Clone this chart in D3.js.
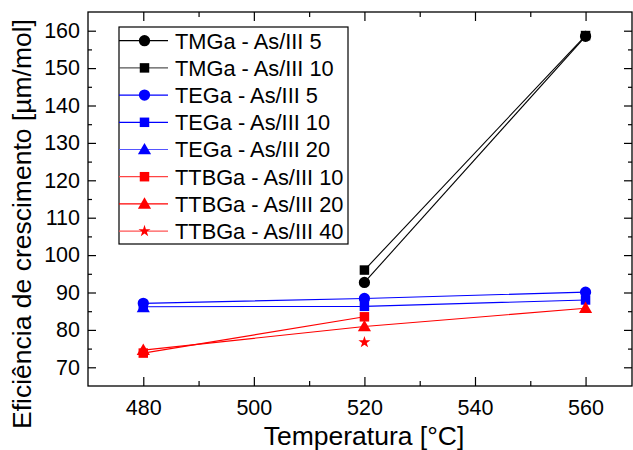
<!DOCTYPE html>
<html>
<head>
<meta charset="utf-8">
<script src="https://cdn.jsdelivr.net/npm/d3@7"></script>
<style>
  html, body { margin: 0; padding: 0; background: #fff; }
  svg { display: block; font-family: "Liberation Sans", Arial, sans-serif; }
</style>
</head>
<body>
<svg id="chart" width="633" height="450"></svg>
<script>
// ---- data ----
const temps = [480, 520, 560];
const seriesNames = [
  "TMGa - As/III 5", "TMGa - As/III 10",
  "TEGa - As/III 5", "TEGa - As/III 10", "TEGa - As/III 20",
  "TTBGa - As/III 10", "TTBGa - As/III 20", "TTBGa - As/III 40"
];
const tmga5   = [null, 92.7, 158.5];
const tmga10  = [null, 96.0, 158.7];
const tega5   = [87.1, 88.4, 90.1];
const tega10  = [86.2, 86.3, 88.0];
const tega20  = [86.0, null, null];
const ttbga10 = [73.8, 83.5, null];
const ttbga20 = [74.6, 80.9, 85.8];
const ttbga40 = [null, 76.7, null];
const xTicks = [480, 500, 520, 540, 560];
const yTicks = [70, 80, 90, 100, 110, 120, 130, 140, 150, 160];

const seriesValues = [tmga5, tmga10, tega5, tega10, tega20, ttbga10, ttbga20, ttbga40];
const seriesColors = ["#000000", "#000000", "#0000ff", "#0000ff", "#0000ff", "#ff0000", "#ff0000", "#ff0000"];
const legendLineColors = ["#000000", "#555555", "#0000ff", "#0000ff", "#5555ff", "#ff4444", "#ff0000", "#ff5555"];
const seriesSymbols = [d3.symbolCircle, d3.symbolSquare, d3.symbolCircle, d3.symbolSquare, d3.symbolTriangle,
                       d3.symbolSquare, d3.symbolTriangle, d3.symbolStar];
const symbolSizes = new Map([[d3.symbolCircle, 100], [d3.symbolSquare, 90], [d3.symbolTriangle, 75], [d3.symbolStar, 45]]);

// ---- layout ----
const L = 88, R = 632, T = 12, B = 386;
const svg = d3.select("#chart");
const x = d3.scaleLinear().domain([470, 568.4]).range([L, R]);
const y = d3.scaleLinear().domain([65, 165]).range([B, T]);

const fontTick = 21.5;

// axes
const gx = svg.append("g").attr("transform", `translate(0,${B})`)
  .call(d3.axisBottom(x).tickValues(xTicks).tickSize(-9).tickPadding(14).tickFormat(d3.format("d")));
const gxm = svg.append("g").attr("transform", `translate(0,${B})`)
  .call(d3.axisBottom(x).tickValues([490, 510, 530, 550]).tickSize(-5).tickFormat(""));
const gxt = svg.append("g").attr("transform", `translate(0,${T})`)
  .call(d3.axisTop(x).tickValues(xTicks).tickSize(-9).tickFormat(""));
const gxtm = svg.append("g").attr("transform", `translate(0,${T})`)
  .call(d3.axisTop(x).tickValues([490, 510, 530, 550]).tickSize(-5).tickFormat(""));
const gy = svg.append("g").attr("transform", `translate(${L},0)`)
  .call(d3.axisLeft(y).tickValues(yTicks).tickSize(-8).tickPadding(8).tickFormat(d3.format("d")));
const gym = svg.append("g").attr("transform", `translate(${L},0)`)
  .call(d3.axisLeft(y).tickValues(d3.range(75, 165, 10)).tickSize(-4).tickFormat(""));
const gyr = svg.append("g").attr("transform", `translate(${R},0)`)
  .call(d3.axisRight(y).tickValues(yTicks).tickSize(-8).tickFormat(""));
const gyrm = svg.append("g").attr("transform", `translate(${R},0)`)
  .call(d3.axisRight(y).tickValues(d3.range(75, 165, 10)).tickSize(-4).tickFormat(""));

[gx, gxm, gxt, gxtm, gy, gym, gyr, gyrm].forEach(g => {
  g.select(".domain").remove();
  g.selectAll("line").attr("stroke", "#000").attr("stroke-width", 1.2);
  g.selectAll("text").attr("font-size", fontTick).attr("fill", "#000")
    .attr("font-family", "'Liberation Sans', Arial, sans-serif");
});

// frame
svg.append("rect").attr("x", L).attr("y", T).attr("width", R - L).attr("height", B - T)
  .attr("fill", "none").attr("stroke", "#000").attr("stroke-width", 1.3);

// axis titles
svg.append("text").attr("x", (L + R) / 2 + 4).attr("y", 445).attr("text-anchor", "middle")
  .attr("font-size", 26.5).text("Temperatura [°C]");
svg.append("text").attr("transform", "translate(31,224) rotate(-90)").attr("text-anchor", "middle")
  .attr("font-size", 26.5).text("Eficiência de crescimento [µm/mol]");

// series lines and markers
const plot = svg.append("g");
seriesValues.forEach((vals, i) => {
  const pts = temps.map((t, j) => ({ t, v: vals[j] })).filter(d => d.v != null);
  if (pts.length > 1) {
    plot.append("path")
      .attr("d", d3.line().x(d => x(d.t)).y(d => y(d.v))(pts))
      .attr("fill", "none").attr("stroke", seriesColors[i]).attr("stroke-width", 1.1);
  }
});
seriesValues.forEach((vals, i) => {
  const pts = temps.map((t, j) => ({ t, v: vals[j] })).filter(d => d.v != null);
  const sym = d3.symbol().type(seriesSymbols[i]).size(symbolSizes.get(seriesSymbols[i]));
  plot.selectAll(null).data(pts).enter().append("path")
    .attr("d", sym)
    .attr("transform", d => `translate(${x(d.t)},${y(d.v) + (seriesSymbols[i] === d3.symbolTriangle ? 1 : 0)})`)
    .attr("fill", seriesColors[i]);
});

// legend
const lgX = 119, lgY = 27, lgW = 229, lgH = 217, rowH = 27.2, row0 = 40.7;
const lg = svg.append("g");
lg.append("rect").attr("x", lgX).attr("y", lgY).attr("width", lgW).attr("height", lgH)
  .attr("fill", "#fff").attr("stroke", "#000").attr("stroke-width", 1.2);
seriesNames.forEach((name, i) => {
  const cy = row0 + i * rowH;
  lg.append("line").attr("x1", lgX).attr("x2", 168).attr("y1", cy).attr("y2", cy)
    .attr("stroke", legendLineColors[i]).attr("stroke-width", 1.2);
  const sym = d3.symbol().type(seriesSymbols[i]).size(symbolSizes.get(seriesSymbols[i]));
  lg.append("path").attr("d", sym)
    .attr("transform", `translate(144.5,${cy + (seriesSymbols[i] === d3.symbolTriangle ? 1 : 0)})`)
    .attr("fill", seriesColors[i]);
  lg.append("text").attr("x", 175).attr("y", cy).attr("dy", "0.36em")
    .attr("font-size", 21.8).attr("fill", "#000").text(name);
});
</script>
</body>
</html>
